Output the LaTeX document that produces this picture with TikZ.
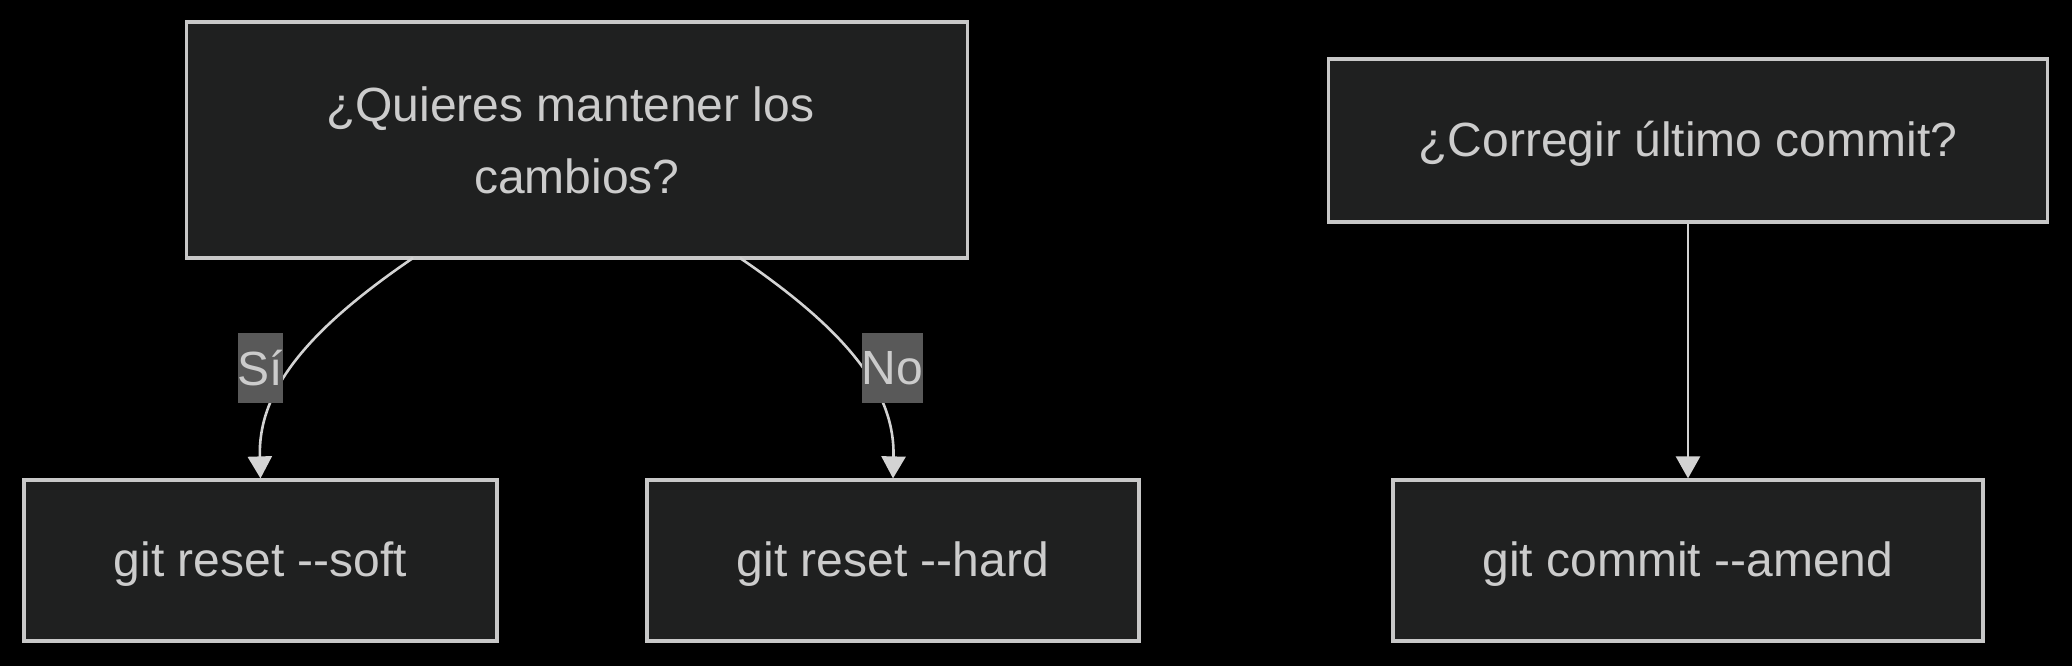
\documentclass[tikz,border=0pt]{standalone}
\usepackage{fontspec}
\setmainfont{Liberation Sans}
\usetikzlibrary{arrows.meta,calc}
\definecolor{boxfill}{HTML}{1F2020}
\definecolor{boxline}{HTML}{C8C8C8}
\definecolor{txt}{HTML}{CCCCCC}
\definecolor{lblfill}{HTML}{595959}
\definecolor{edge}{HTML}{D3D3D3}
\begin{document}
\begin{tikzpicture}[x=0.5pt,y=-0.5pt,
  flowbox/.style={draw=boxline,line width=1.6pt,fill=boxfill,text=txt,inner sep=0pt,
    font=\fontsize{24}{36}\selectfont,align=center},
  onebox/.style={flowbox,text height=20.5pt,text depth=5pt},
  edgelbl/.style={fill=lblfill,text=txt,inner xsep=0pt,inner ysep=0pt,minimum height=35pt,
    font=\fontsize{24}{28}\selectfont},
  conn/.style={draw=edge,line width=1.3pt,-{Triangle[length=11pt,width=12pt]}}]
\fill[black] (0,0) rectangle (2072,666);
\useasboundingbox (0,0) rectangle (2072,666);
\node[flowbox,minimum width=390.5pt,minimum height=118pt] (q) at (577,140) {¿Quieres mantener los\hspace*{6.7pt}\\cambios?};
\node[onebox,minimum width=359.5pt,minimum height=81.5pt] (c) at (1688,140.5) {¿Corregir último commit?};
\node[onebox,minimum width=236.5pt,minimum height=80.5pt] (soft) at (260.5,560.5) {git reset -{}-soft};
\node[onebox,minimum width=246pt,minimum height=80.5pt] (hard) at (893,560.5) {git reset -{}-hard};
\node[onebox,minimum width=295pt,minimum height=80.5pt] (amend) at (1688,560.5) {git commit -{}-amend};
\coordinate (qs) at (413,258);
\coordinate (qh) at (740,258);
\draw[conn] (qs) .. controls (300,335) and (258,395) .. (soft.north);
\draw[conn] (qh) .. controls (853,335) and (895,395) .. (hard.north);
\draw[conn] (c.south) -- (amend.north);
\node[edgelbl] (lsi) at (260.5,368) {Sí};
\node[edgelbl] (lno) at (892.5,368) {No};
\end{tikzpicture}
\end{document}
